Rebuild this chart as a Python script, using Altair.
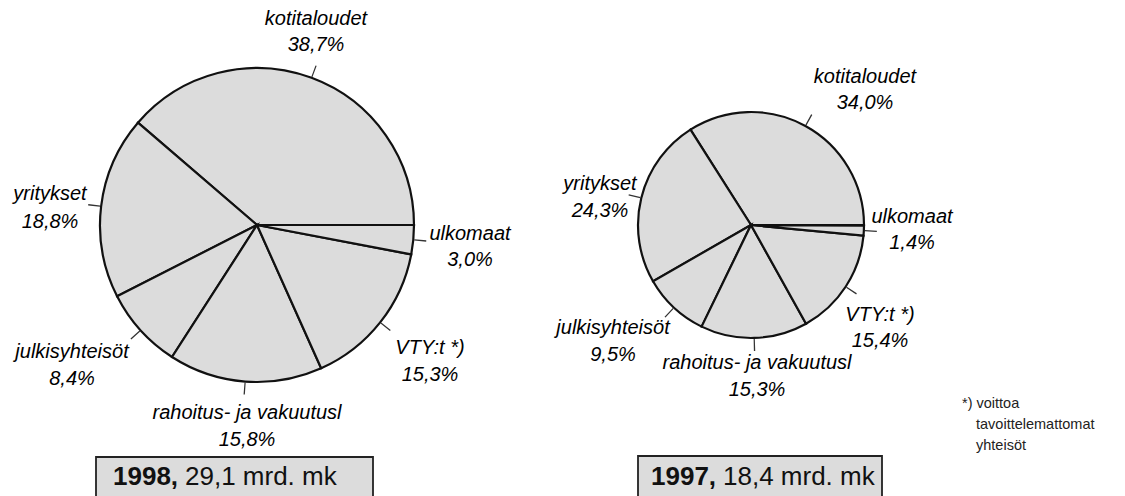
import math
import altair as alt
import pandas as pd

# ---------------- data ----------------
sectors = ["kotitaloudet", "yritykset", "julkisyhteisöt",
           "rahoitus- ja vakuutusl", "VTY:t *)", "ulkomaat"]
share_1998 = [38.7, 18.8, 8.4, 15.8, 15.3, 3.0]
share_1997 = [34.0, 24.3, 9.5, 15.3, 15.4, 1.4]
years = ["1998", "1997"]
totals = ["29,1 mrd. mk", "18,4 mrd. mk"]
footnote = ["*) voittoa", "tavoittelemattomat", "yhteisöt"]

# ---------------- layout (page pixels) ----------------
W, H = 1109, 488
M = 8
PIE = {"1998": dict(cx=257, cy=225, r=157), "1997": dict(cx=751, cy=225, r=113)}
LABEL_POS = {
    "1998": [(316, 19, 45), (50, 194, 222), (72, 352, 379),
             (247, 413, 440), (430, 348, 375), (470, 234, 260)],
    "1997": [(865, 77, 103), (600, 184, 211), (613, 328, 355),
             (757, 363, 390), (880, 315, 341), (912, 217, 243)],
}
# box: left, top, right, text start
BOX = {"1998": (96, 457, 373, 113), "1997": (638, 456, 882, 651)}
BOLD_W = 72
FILL = "#dcdcdc"
FONT = "Liberation Sans"

theta_scale = alt.Scale(domain=[0, 100], range=[2.5 * math.pi, 0.5 * math.pi])

layers = []
shares = {"1998": share_1998, "1997": share_1997}
for yr in years:
    vals = shares[yr]
    p = PIE[yr]
    start, rows = 0.0, []
    for s, v in zip(sectors, vals):
        rows.append(dict(sector=s, value=v, start=start, end=start + v,
                         mid=start + v / 2))
        start += v
    df = pd.DataFrame(rows)
    d = 0.6 / (2 * math.pi * p["r"]) * 100
    df["t0"] = df["mid"] - d
    df["t1"] = df["mid"] + d

    pie = alt.Chart(df).mark_arc(
        radius=p["r"], fill=FILL, stroke="#111", strokeWidth=2.2
    ).encode(
        theta=alt.Theta("start:Q", stack=None, scale=theta_scale),
        theta2="end:Q",
        x=alt.value(p["cx"] - M), y=alt.value(p["cy"] - M),
    )
    ticks = alt.Chart(df).mark_arc(
        radius=p["r"] + 1, radius2=p["r"] + 13, fill="#333"
    ).encode(
        theta=alt.Theta("t0:Q", stack=None, scale=theta_scale),
        theta2="t1:Q",
        x=alt.value(p["cx"] - M), y=alt.value(p["cy"] - M),
    )
    lab_rows = []
    for (s, v), (lx, ly1, ly2) in zip(zip(sectors, vals), LABEL_POS[yr]):
        lab_rows.append(dict(x=lx - M, y=ly1 - M, text=s))
        lab_rows.append(dict(x=lx - M, y=ly2 - M,
                             text=f"{v:.1f}".replace(".", ",") + "%"))
    labels = alt.Chart(pd.DataFrame(lab_rows)).mark_text(
        font=FONT, fontSize=20, fontStyle="italic", color="#000",
        align="center", baseline="middle"
    ).encode(
        x=alt.X("x:Q", scale=None, axis=None),
        y=alt.Y("y:Q", scale=None, axis=None),
        text="text:N",
    )
    layers += [pie, ticks, labels]

# boxes with year / total
box_rows, year_rows, tot_rows = [], [], []
for yr, tot in zip(years, totals):
    x0, y0, x1, tx = BOX[yr]
    box_rows.append(dict(x=x0 - M, x2=x1 - M, y=y0 - M, y2=y0 - M + 60))
    year_rows.append(dict(x=tx - M, y=477 - M, text=yr + ","))
    tot_rows.append(dict(x=tx + BOLD_W - M, y=477 - M, text=tot))

boxes = alt.Chart(pd.DataFrame(box_rows)).mark_rect(
    fill=FILL, stroke="#222", strokeWidth=1.8
).encode(
    x=alt.X("x:Q", scale=None, axis=None), x2="x2:Q",
    y=alt.Y("y:Q", scale=None, axis=None), y2="y2:Q",
)
year_txt = alt.Chart(pd.DataFrame(year_rows)).mark_text(
    font=FONT, fontSize=26, fontWeight="bold", color="#111",
    align="left", baseline="middle"
).encode(x=alt.X("x:Q", scale=None, axis=None),
         y=alt.Y("y:Q", scale=None, axis=None), text="text:N")
tot_txt = alt.Chart(pd.DataFrame(tot_rows)).mark_text(
    font=FONT, fontSize=26, color="#111", align="left", baseline="middle"
).encode(x=alt.X("x:Q", scale=None, axis=None),
         y=alt.Y("y:Q", scale=None, axis=None), text="text:N")

# footnote
fn_df = pd.DataFrame(dict(
    x=[962 - M, 976 - M, 976 - M],
    y=[404 - M, 425 - M, 446 - M],
    text=footnote,
))
fn = alt.Chart(fn_df).mark_text(
    font=FONT, fontSize=14.5, color="#222", align="left", baseline="middle"
).encode(x=alt.X("x:Q", scale=None, axis=None),
         y=alt.Y("y:Q", scale=None, axis=None), text="text:N")

chart = alt.layer(*layers, boxes, year_txt, tot_txt, fn).properties(
    width=W, height=H, padding=0,
    autosize=alt.AutoSizeParams(type="none"),
).configure_view(stroke=None)

chart.save("out.html", embed_options={"renderer": "svg", "actions": False})
